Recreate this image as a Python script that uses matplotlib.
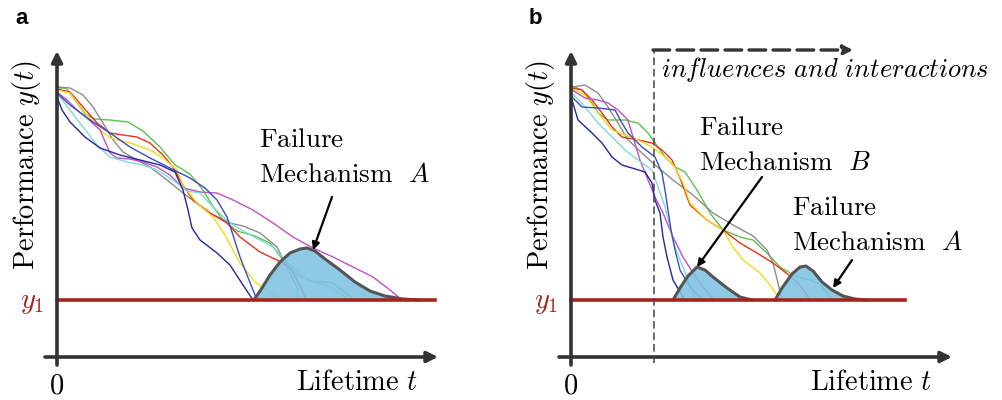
import numpy as np
import matplotlib
matplotlib.use("Agg")
import matplotlib.pyplot as plt

plt.rcParams['mathtext.fontset'] = 'cm'

# (lifetime t, performance y) points, threshold y1 = 57
Y1 = 57

# panel a: degradation paths
A_GREEN = [(1, 269), (9, 269), (18, 257), (28, 243), (38, 238), (53, 237), (71, 235), (86, 226),
           (103, 210), (118, 192), (133, 183), (146, 167), (155, 152), (166, 137), (180, 126),
           (198, 121), (213, 114), (226, 97), (240, 82), (255, 76), (276, 74), (295, 59), (299, 57)]
A_GRAY = [(0, 270), (13, 269), (26, 262), (36, 250), (46, 234), (56, 217), (66, 205), (80, 197),
          (93, 190), (110, 177), (126, 164), (153, 144), (173, 134), (186, 131), (203, 124),
          (220, 110), (230, 90), (240, 70), (241, 57)]
A_RED = [(0, 268), (13, 265), (26, 250), (40, 234), (53, 224), (66, 222), (80, 220), (93, 214),
         (106, 202), (116, 190), (126, 172), (136, 157), (153, 144), (170, 134), (183, 120),
         (203, 105), (220, 97), (233, 89), (243, 72), (249, 57)]
A_YELLOW = [(0, 267), (13, 264), (26, 247), (40, 230), (53, 219), (73, 214), (93, 207), (106, 199),
            (120, 187), (126, 172), (140, 154), (156, 140), (168, 122), (183, 94), (198, 75),
            (218, 61), (230, 57)]
A_MAGENTA = [(0, 265), (10, 257), (20, 247), (30, 239), (43, 227), (53, 204), (60, 199), (73, 198),
             (86, 195), (100, 190), (113, 182), (126, 169), (143, 165), (160, 164), (176, 157),
             (196, 147), (216, 134), (236, 120), (256, 109), (276, 100), (296, 90), (316, 80),
             (333, 67), (345, 57)]
A_CYAN = [(0, 264), (13, 247), (26, 230), (40, 212), (53, 200), (70, 195), (86, 192), (100, 187),
          (116, 177), (130, 166), (143, 164), (156, 150), (173, 134), (190, 124), (203, 117),
          (216, 110), (230, 95), (250, 77), (273, 70), (290, 59), (293, 57)]
A_BLUE = [(0, 264), (13, 252), (33, 237), (53, 224), (73, 210), (93, 199), (113, 189), (133, 179),
          (148, 169), (160, 157), (170, 140), (176, 122), (183, 100), (190, 82), (198, 62), (201, 57)]
A_NAVY = [(0, 260), (5, 247), (13, 235), (28, 220), (43, 209), (63, 202), (83, 197), (103, 192),
          (118, 185), (126, 167), (131, 147), (135, 129), (143, 117), (160, 104), (173, 92),
          (186, 72), (196, 57)]

# panel a: failure time density, mechanism A
A_MECH_A = [(197, 57), (205, 69), (213, 82), (223, 95), (233, 104), (243, 108), (250, 109),
            (258, 106), (268, 98), (283, 87), (298, 75), (313, 66), (328, 61), (346, 58), (363, 57)]

# panel b: degradation paths
B_GREEN = [(1, 271), (11, 267), (21, 254), (27, 244), (37, 237), (54, 237), (67, 234), (77, 224),
           (84, 214), (94, 200), (104, 190), (114, 185), (126, 167), (139, 144), (152, 127),
           (169, 120), (182, 117), (196, 104), (209, 90), (226, 80), (239, 77), (249, 73),
           (259, 60), (261, 57)]
B_GRAY = [(1, 270), (14, 272), (27, 264), (37, 250), (47, 234), (57, 217), (71, 204), (84, 192),
          (102, 177), (122, 162), (142, 144), (162, 132), (182, 121), (196, 107), (202, 94),
          (207, 74), (211, 57)]
B_RED = [(1, 269), (11, 267), (21, 257), (31, 244), (41, 230), (51, 220), (67, 217), (81, 214),
         (91, 207), (101, 197), (109, 179), (119, 152), (136, 137), (152, 127), (169, 114),
         (186, 104), (202, 94), (214, 85), (226, 75), (234, 65), (239, 57)]
B_YELLOW = [(1, 268), (14, 262), (27, 244), (41, 227), (54, 222), (67, 217), (81, 210), (94, 200),
            (104, 190), (112, 174), (119, 154), (136, 137), (152, 127), (162, 110), (172, 97),
            (189, 84), (199, 72), (206, 62), (208, 57)]
B_MAGENTA = [(1, 267), (14, 259), (27, 257), (37, 254), (47, 247), (57, 237), (62, 220), (69, 197),
             (77, 177), (84, 160), (92, 144), (102, 120), (112, 100), (122, 84), (132, 70),
             (141, 60), (143, 57)]
B_CYAN = [(1, 264), (14, 250), (27, 234), (41, 220), (54, 207), (67, 197), (81, 187), (87, 170),
          (94, 150), (99, 130), (104, 110), (109, 97), (116, 80), (122, 64), (126, 57)]
B_BLUE = [(1, 260), (11, 250), (27, 249), (44, 247), (51, 234), (57, 224), (71, 210), (84, 200),
          (91, 184), (94, 167), (97, 147), (100, 127), (104, 107), (109, 87), (119, 70),
          (129, 60), (133, 57)]
B_NAVY = [(1, 257), (7, 237), (21, 224), (31, 214), (41, 200), (51, 192), (61, 189), (74, 185),
          (81, 174), (84, 157), (89, 144), (92, 120), (96, 100), (102, 77), (112, 60), (115, 57)]

# panel b: failure time densities
B_MECH_B = [(102, 57), (109, 69), (117, 81), (126, 90), (134, 87), (142, 80), (156, 69),
            (169, 60), (177, 58), (181, 57)]
B_MECH_A = [(204, 57), (211, 69), (221, 83), (229, 90), (235, 91), (242, 86), (251, 75),
            (261, 67), (272, 61), (284, 58), (296, 57)]

INFLUENCE_T = 83  # start of influences and interactions

COLORS = ['#5cc24a', '#8c8c8c', '#e8301c', '#f0dc1a', '#c44fc4', '#80d8d8', '#3a4fc0', '#26269a']
AXIS_COL = '#333333'
Y1_COL = '#a8241a'
FILL_COL = '#7ec3e3'
EDGE_COL = '#555555'
FS = 20.5


def draw_paths(ax, paths):
    for pts, c in zip(paths, COLORS):
        t, y = zip(*pts)
        ax.plot(t, y, color=c, lw=1.0, solid_joinstyle='round', zorder=2)


def draw_density(ax, pts):
    t, y = zip(*pts)
    ax.fill_between(t, Y1, y, color=FILL_COL, alpha=0.88, lw=0, zorder=3)
    ax.plot(t, y, color=EDGE_COL, lw=2.2, solid_joinstyle='round', zorder=4)


def draw_frame(ax, x_end, y1_end, label):
    ax.annotate('', xy=(0, 306), xytext=(0, -8),
                arrowprops=dict(arrowstyle='-|>', lw=2.6, color=AXIS_COL,
                                mutation_scale=16, shrinkA=0, shrinkB=0), zorder=6)
    ax.annotate('', xy=(x_end, 0), xytext=(-12, 0),
                arrowprops=dict(arrowstyle='-|>', lw=2.6, color=AXIS_COL,
                                mutation_scale=16, shrinkA=0, shrinkB=0), zorder=6)
    ax.plot([0, y1_end], [Y1, Y1], color=Y1_COL, lw=2.6, zorder=5)
    ax.text(-13, Y1 - 2, r'$y_1$', color=Y1_COL, fontsize=FS, ha='right', va='center')
    ax.text(0, -28, r'$0$', fontsize=FS, ha='center', va='center')
    ax.text(361, -25, r'$\mathrm{Lifetime}\ t$', fontsize=FS, ha='right', va='center')
    ax.text(-30, 192, r'$\mathrm{Performance}\ y(t)$', fontsize=FS, rotation=90,
            ha='center', va='center')
    ax.text(-42, 339, label, fontsize=16, fontweight='bold', family='Liberation Sans',
            ha='left', va='center')


fig = plt.figure(figsize=(10.03, 4.0), dpi=100)

# ---- panel a
ax1 = fig.add_axes([0, 0, 500 / 1003, 1])
ax1.set_xlim(-57, 443)
ax1.set_ylim(-43, 357)
ax1.axis('off')
draw_paths(ax1, [A_GREEN, A_GRAY, A_RED, A_YELLOW, A_MAGENTA, A_CYAN, A_BLUE, A_NAVY])
draw_density(ax1, A_MECH_A)
draw_frame(ax1, 381, 378, 'a')
ax1.text(202, 217, r'$\mathrm{Failure}$', fontsize=FS - 1, ha='left', va='center')
ax1.text(202, 182, r'$\mathrm{Mechanism}\ \ A$', fontsize=FS - 1, ha='left', va='center')
ax1.annotate('', xy=(256, 107), xytext=(275, 160),
             arrowprops=dict(arrowstyle='-|>', lw=1.6, color='black', mutation_scale=11,
                             shrinkA=0, shrinkB=0), zorder=7)

# ---- panel b
ax2 = fig.add_axes([500 / 1003, 0, 503 / 1003, 1])
ax2.set_xlim(-71, 432)
ax2.set_ylim(-43, 357)
ax2.axis('off')
draw_paths(ax2, [B_GREEN, B_GRAY, B_RED, B_YELLOW, B_MAGENTA, B_CYAN, B_BLUE, B_NAVY])
draw_density(ax2, B_MECH_B)
draw_density(ax2, B_MECH_A)
draw_frame(ax2, 381, 334, 'b')
ax2.plot([INFLUENCE_T, INFLUENCE_T], [-6, 307], color='#444444', lw=1.1,
         dashes=(5, 2.5), zorder=6)
ax2.annotate('', xy=(282, 307), xytext=(INFLUENCE_T - 1, 307),
             arrowprops=dict(arrowstyle='-|>', lw=2.4, color=AXIS_COL, ls=(0, (5, 2.2)),
                             mutation_scale=14, shrinkA=0, shrinkB=0), zorder=6)
ax2.text(90, 288, r'$\mathit{influences\ and\ interactions}$', fontsize=FS - 1.5,
         ha='left', va='center')
ax2.text(128, 229, r'$\mathrm{Failure}$', fontsize=FS - 1, ha='left', va='center')
ax2.text(128, 194, r'$\mathrm{Mechanism}\ \ B$', fontsize=FS - 1, ha='left', va='center')
ax2.text(221, 149, r'$\mathrm{Failure}$', fontsize=FS - 1, ha='left', va='center')
ax2.text(221, 114, r'$\mathrm{Mechanism}\ \ A$', fontsize=FS - 1, ha='left', va='center')
ax2.annotate('', xy=(126, 90), xytext=(191, 180),
             arrowprops=dict(arrowstyle='-|>', lw=1.6, color='black', mutation_scale=11,
                             shrinkA=0, shrinkB=0), zorder=7)
ax2.annotate('', xy=(262, 69), xytext=(281, 97),
             arrowprops=dict(arrowstyle='-|>', lw=1.6, color='black', mutation_scale=11,
                             shrinkA=0, shrinkB=0), zorder=7)

fig.savefig('out.png', dpi=100)
